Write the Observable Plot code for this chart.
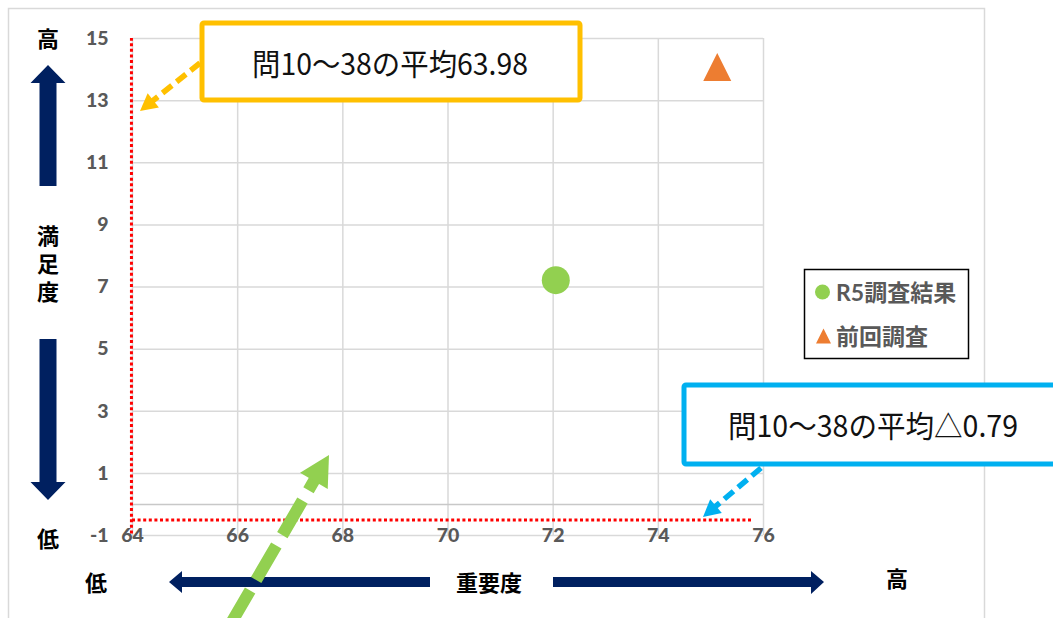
<!DOCTYPE html>
<html>
<head>
<meta charset="utf-8">
<script src="https://cdn.jsdelivr.net/npm/d3@7"></script>
<script src="https://cdn.jsdelivr.net/npm/@observablehq/plot@0.6"></script>
<style>
  html, body { margin: 0; padding: 0; background: #fff; }
  #chart { width: 1053px; height: 618px; overflow: hidden; }
</style>
</head>
<body>
<div id="chart"></div>
<script>
// ---- data ----
const xTicks = [64, 66, 68, 70, 72, 74, 76];
const yTicks = [-1, 1, 3, 5, 7, 9, 11, 13, 15];
const axisCross = [0];
const seriesNames = ["R5調査結果", "前回調査"];
const r5X = [72.05];
const r5Y = [7.22];
const prevX = [75.12];
const prevY = [14.08];
const avgImportance = 63.98;   // 問10～38の平均 (重要度)
const avgSatisfactionLine = -0.5; // drawn position of 平均 line (満足度)
const avgHLineEnd = 75.8;
const labelAvgX = "問10～38の平均63.98";
const labelAvgY = "問10～38の平均△0.79";
const xTitle = "重要度";
const yTitle = "満足度";
const hiLabel = "高";
const loLabel = "低";

const r5 = r5X.map((x, i) => ({x, y: r5Y[i]}));
const prev = prevX.map((x, i) => ({x, y: prevY[i]}));

const tri = {
  draw(ctx, size) {
    const r = Math.sqrt(size / Math.PI);
    ctx.moveTo(0, -r);
    ctx.lineTo(r, r);
    ctx.lineTo(-r, r);
    ctx.closePath();
  }
};

const GRID = "#d9d9d9";
const LBL = "#595959";
const NAVY = "#002060";
const NUMFONT = "Lato, 'Noto Sans CJK JP', sans-serif";
const JPFONT = "'Noto Sans CJK JP', sans-serif";

const svgEl = Plot.plot({
  width: 1053,
  height: 618,
  marginLeft: 132,
  marginRight: 290,
  marginTop: 38,
  marginBottom: 83,
  x: {domain: [64, 76], axis: null},
  y: {domain: [-1, 15], axis: null},
  style: {fontFamily: NUMFONT, background: "#fff", overflow: "visible"},
  marks: [
    Plot.ruleX(xTicks, {y1: -1, y2: 15, stroke: GRID, strokeWidth: 1.5}),
    Plot.ruleY(yTicks, {x1: 64, x2: 76, stroke: GRID, strokeWidth: 1.5}),
    Plot.ruleY(axisCross, {x1: 64, x2: 76, stroke: "#c8c8c8", strokeWidth: 1.5}),
    Plot.ruleX([avgImportance], {y1: -0.95, y2: 15, stroke: "#ff0000", strokeWidth: 3, strokeDasharray: "3,2.6"}),
    Plot.ruleY([avgSatisfactionLine], {x1: 64, x2: avgHLineEnd, stroke: "#ff0000", strokeWidth: 3, strokeDasharray: "3,2.6"}),
    Plot.dot(r5, {x: "x", y: "y", r: 14, fill: "#92D050", stroke: "none"}),
    Plot.dot(prev, {x: "x", y: "y", r: 14, symbol: tri, fill: "#ED7D31", stroke: "none"}),
    Plot.text(yTicks, {x: 64, y: d => d, text: d => String(d), dx: -24, textAnchor: "end",
      fontSize: 19.5, fontWeight: 900, fill: LBL}),
    Plot.text(xTicks, {x: d => d, y: -1, text: d => String(d), textAnchor: "middle",
      fontSize: 19.5, fontWeight: 900, fill: LBL})
  ]
});
document.getElementById("chart").appendChild(svgEl);

const svg = d3.select(svgEl);
const g = svg.append("g").attr("text-anchor", "start");

// outer chart border
g.append("rect").attr("x", 8.5).attr("y", 8.5).attr("width", 976).attr("height", 640)
  .attr("fill", "none").attr("stroke", GRID).attr("stroke-width", 1.5);

function dashedArrow(x1, y1, x2, y2, color, width, dash, headLen, headHalf) {
  const dx = x2 - x1, dy = y2 - y1, L = Math.hypot(dx, dy);
  const ux = dx / L, uy = dy / L, px = -uy, py = ux;
  const bx = x2 - ux * headLen, by = y2 - uy * headLen;
  g.append("line").attr("x1", x1).attr("y1", y1).attr("x2", bx + ux * 1).attr("y2", by + uy * 1)
    .attr("stroke", color).attr("stroke-width", width).attr("stroke-dasharray", dash);
  g.append("polygon")
    .attr("points", [[x2, y2], [bx + px * headHalf, by + py * headHalf], [bx - px * headHalf, by - py * headHalf]].map(p => p.join(",")).join(" "))
    .attr("fill", color);
}

function blockArrow(points) {
  g.append("polygon").attr("points", points.map(p => p.join(",")).join(" ")).attr("fill", NAVY);
}

// navy arrows (left: up & down)
blockArrow([[48, 65], [65.5, 83], [56.5, 83], [56.5, 186], [39.5, 186], [39.5, 83], [30.5, 83]]);
blockArrow([[39.5, 339], [56.5, 339], [56.5, 482], [65.5, 482], [48, 500], [30.5, 482], [39.5, 482]]);
// navy arrows (bottom: left & right)
blockArrow([[169, 582], [182, 571], [182, 577], [430, 577], [430, 587], [182, 587], [182, 593]]);
blockArrow([[553, 577], [811, 577], [811, 571], [824, 582], [811, 594], [811, 587], [553, 587]]);

function jp(x, y, t, size, weight, fill) {
  return g.append("text").attr("x", x).attr("y", y).attr("text-anchor", "middle")
    .attr("dominant-baseline", "central").attr("font-family", JPFONT)
    .attr("font-size", size).attr("font-weight", weight).attr("fill", fill).text(t);
}
jp(48, 37, hiLabel, 22, 700, "#000");
// vertical title 満足度
g.append("text").attr("x", 48).attr("y", 225)
  .attr("writing-mode", "tb").attr("text-anchor", "start")
  .attr("font-family", JPFONT).attr("font-size", 22).attr("font-weight", 700)
  .attr("letter-spacing", 6).attr("fill", "#000").text(yTitle);
jp(48, 537, loLabel, 22, 700, "#000");
jp(96, 581, loLabel, 22, 700, "#000");
jp(489, 581, xTitle, 22, 700, "#000");
jp(897, 577, hiLabel, 22, 700, "#000");

// legend
g.append("rect").attr("x", 804.5).attr("y", 269.5).attr("width", 164).attr("height", 89)
  .attr("fill", "#fff").attr("stroke", "#000").attr("stroke-width", 1.5);
g.append("circle").attr("cx", 822.5).attr("cy", 292).attr("r", 7.5).attr("fill", "#92D050");
g.append("path").attr("transform", "translate(823.5,336)")
  .attr("d", d3.symbol(tri, Math.PI * 7.5 * 7.5)()).attr("fill", "#ED7D31");
[[seriesNames[0], 292], [seriesNames[1], 336]].forEach(([t, y]) => {
  g.append("text").attr("x", 836).attr("y", y).attr("dominant-baseline", "central")
    .attr("text-anchor", "start")
    .attr("font-family", NUMFONT).attr("font-size", 23).attr("font-weight", 700)
    .attr("fill", LBL).text(t);
});

// annotation boxes
g.append("rect").attr("x", 202).attr("y", 23).attr("width", 378).attr("height", 77)
  .attr("rx", 2).attr("fill", "#fff").attr("stroke", "#FFC000").attr("stroke-width", 5);
g.append("text").attr("x", 390).attr("y", 62).attr("text-anchor", "middle").attr("dominant-baseline", "central")
  .attr("font-family", JPFONT).attr("font-size", 30).attr("fill", "#111")
  .attr("textLength", 276).attr("lengthAdjust", "spacingAndGlyphs").text(labelAvgX);

g.append("rect").attr("x", 684).attr("y", 385).attr("width", 420).attr("height", 79)
  .attr("rx", 2).attr("fill", "#fff").attr("stroke", "#00B0F0").attr("stroke-width", 5);
g.append("text").attr("x", 873).attr("y", 424).attr("text-anchor", "middle").attr("dominant-baseline", "central")
  .attr("font-family", JPFONT).attr("font-size", 30).attr("fill", "#111")
  .attr("textLength", 290).attr("lengthAdjust", "spacingAndGlyphs").text(labelAvgY);

// dashed arrows
dashedArrow(200, 63, 140, 111, "#FFC000", 5.5, "12,6", 17, 9);
dashedArrow(761, 468, 703, 517, "#00B0F0", 5.5, "12,6", 17, 9);
dashedArrow(230, 625, 329, 455, "#92D050", 12, "40,12", 30, 16);
</script>
</body>
</html>
